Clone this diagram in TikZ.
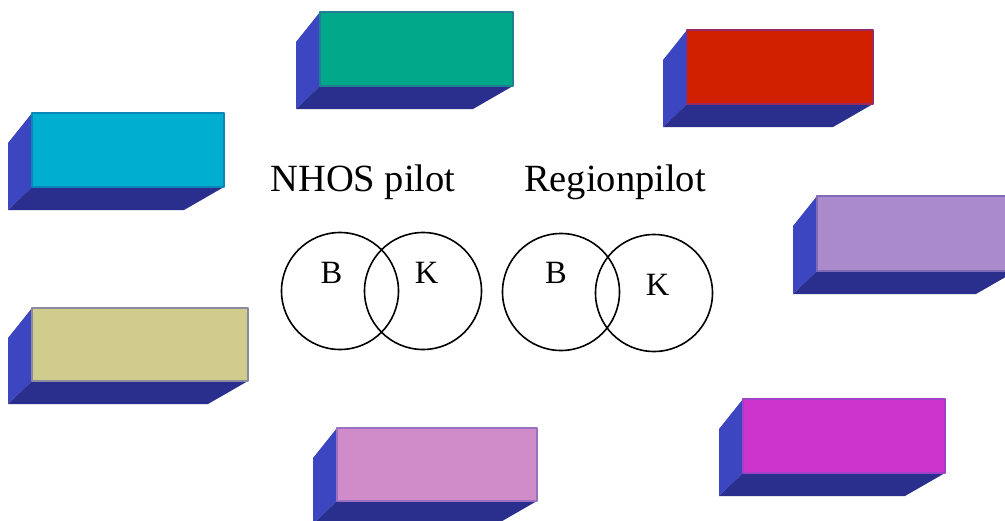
\documentclass[tikz,border=0pt]{standalone}
\usepackage{fontspec}
\setmainfont{Liberation Serif}
\definecolor{sideblue}{HTML}{3C46C0}
\definecolor{bottomblue}{HTML}{2A2E8C}
\definecolor{cTeal}{HTML}{00A88A}\definecolor{bTeal}{HTML}{1F7F90}
\definecolor{cRed}{HTML}{D02000}\definecolor{bRed}{HTML}{9A2A60}
\definecolor{cCyan}{HTML}{00AECF}\definecolor{bCyan}{HTML}{0A86B8}
\definecolor{cLilac}{HTML}{AA8ACA}\definecolor{bLilac}{HTML}{7E6AB8}
\definecolor{cKhaki}{HTML}{CFCC8C}\definecolor{bKhaki}{HTML}{8A8AA0}
\definecolor{cPink}{HTML}{CF8CC9}\definecolor{bPink}{HTML}{9A70C0}
\definecolor{cMagenta}{HTML}{CC33CC}\definecolor{bMagenta}{HTML}{A040C8}
\tikzset{
  sideface/.style={fill=sideblue},
  bottomface/.style={fill=bottomblue},
  frontface/.style={line width=2pt, line join=round},
  title/.style={anchor=base, inner sep=0pt, font=\fontsize{38.5}{40}\selectfont},
  letter/.style={inner sep=0pt, font=\fontsize{32.5}{34}\selectfont},
  ring/.style={draw, line width=1.6pt, circle, minimum size=117pt, inner sep=0pt},
}
% 3D block: front face (#1,#2)-(#3,#4), extruded down and to the left
\newcommand\blockbox[6]{%
  \fill[sideface] (#1,#2) -- (#1-24,#2+30) -- (#1-24,#4+23) -- (#1,#4) -- cycle;
  \fill[bottomface] (#1,#4) -- (#3,#4) -- (#3-40,#4+23) -- (#1-24,#4+23) -- cycle;
  \filldraw[frontface, fill=#5, draw=#6] (#1,#2) rectangle (#3,#4);
}
\begin{document}
\begin{tikzpicture}[x=1pt,y=-1pt]
\clip (0,0) rectangle (1005,520);
\fill[white] (0,0) rectangle (1005,520);

\blockbox{320}{12}{513}{86}{cTeal}{bTeal}
\blockbox{687}{30}{873}{104}{cRed}{bRed}
\blockbox{32}{113}{224}{187}{cCyan}{bCyan}
\blockbox{817}{196}{1016}{271}{cLilac}{bLilac}
\blockbox{32}{308}{248}{381}{cKhaki}{bKhaki}
\blockbox{337}{428}{537}{501}{cPink}{bPink}
\blockbox{743}{399}{945}{473}{cMagenta}{bMagenta}

\node[title] (nhos) at (363,191) {NHOS pilot};
\node[title] (region) at (615,191) {Regionpilot};

\node[ring] (b1) at (340,291) {};
\node[ring] (k1) at (423,291) {};
\node[ring] (b2) at (561,292) {};
\node[ring] (k2) at (654,293) {};

\node[letter] (lb1) at (331.5,273) {B};
\node[letter] (lk1) at (426.5,273) {K};
\node[letter] (lb2) at (556,273) {B};
\node[letter] (lk2) at (657.5,284.5) {K};
\end{tikzpicture}
\end{document}
